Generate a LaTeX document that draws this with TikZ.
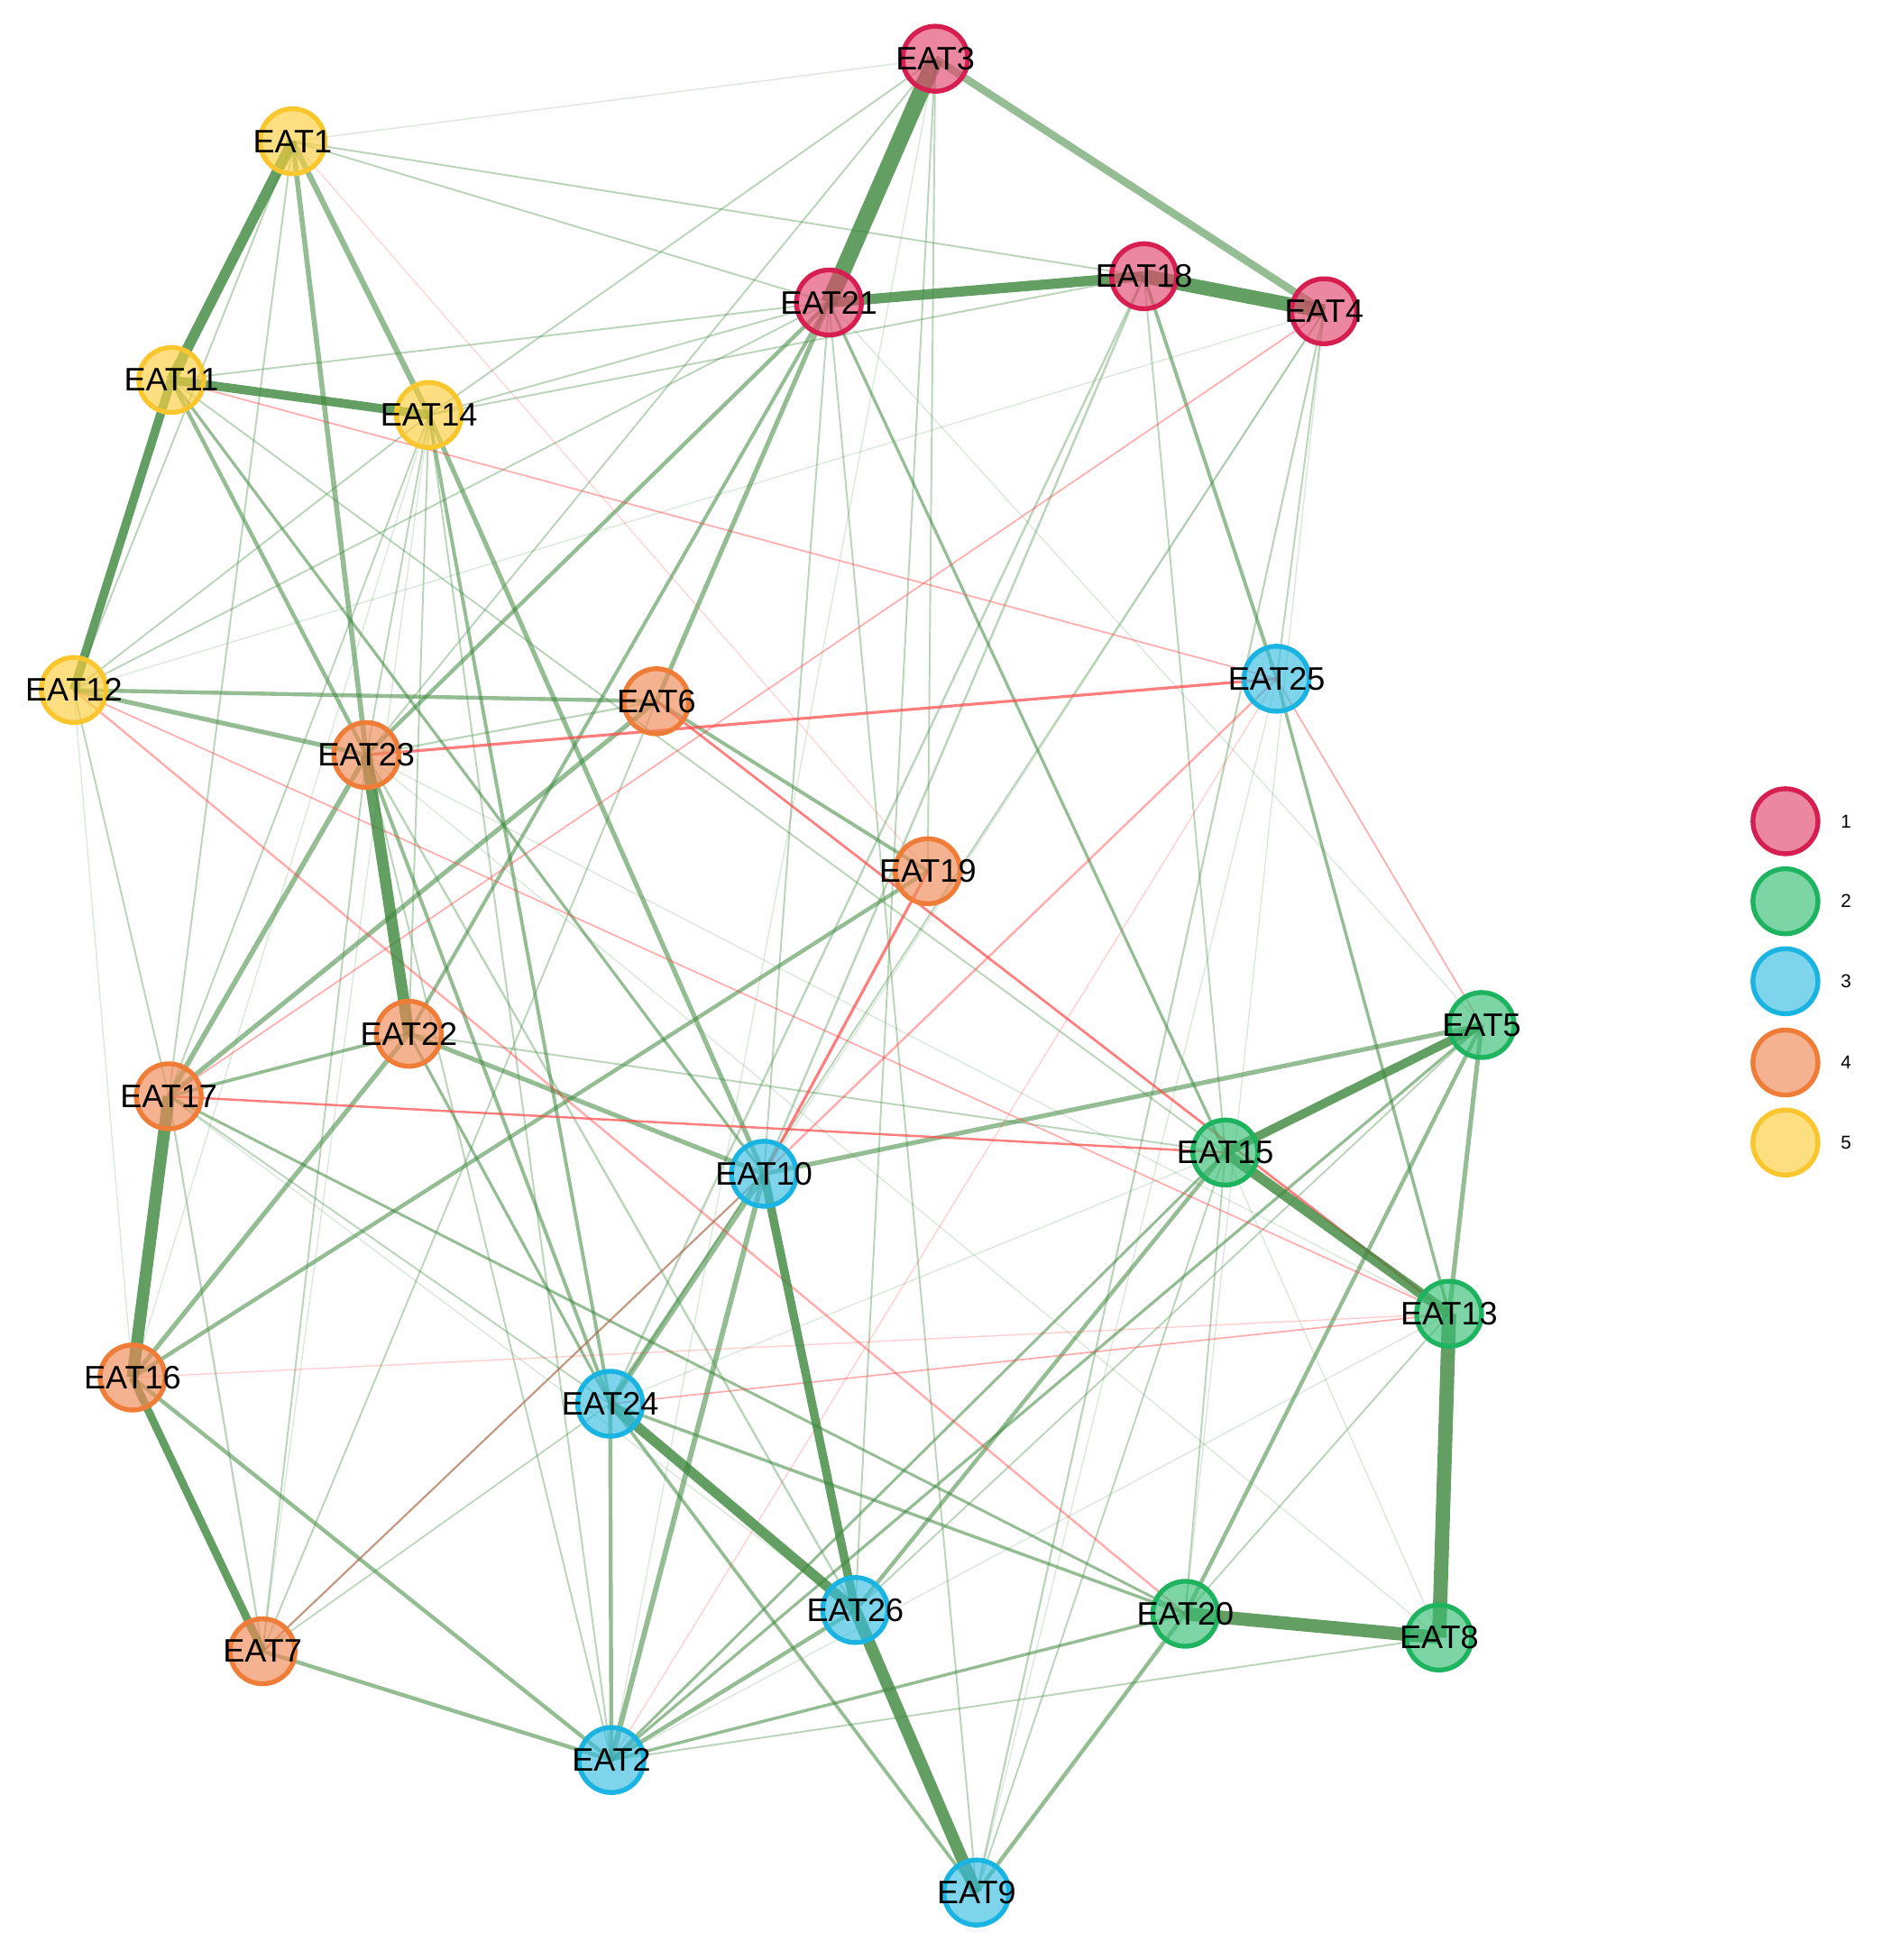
\documentclass[tikz,border=0pt]{standalone}
\usepackage{fontspec}
\setmainfont{Liberation Sans}
\pgfdeclarelayer{edges}
\pgfsetlayers{edges,main}
\definecolor{eg}{RGB}{60,135,60}
\definecolor{er}{RGB}{255,70,70}
\definecolor{eb}{RGB}{170,110,80}
\definecolor{f1}{RGB}{225,71,109}\definecolor{b1}{RGB}{214,30,80}
\definecolor{f2}{RGB}{55,189,117}\definecolor{b2}{RGB}{30,180,95}
\definecolor{f3}{RGB}{55,189,225}\definecolor{b3}{RGB}{25,180,225}
\definecolor{f4}{RGB}{240,137,86}\definecolor{b4}{RGB}{240,125,55}
\definecolor{f5}{RGB}{252,205,60}\definecolor{b5}{RGB}{250,198,45}
\tikzset{
  nd/.style={circle, minimum size=1.04cm, inner sep=0pt, line width=2.2pt, fill opacity=.65, draw opacity=1},
  c1/.style={nd, draw=b1, fill=f1},
  c2/.style={nd, draw=b2, fill=f2},
  c3/.style={nd, draw=b3, fill=f3},
  c4/.style={nd, draw=b4, fill=f4},
  c5/.style={nd, draw=b5, fill=f5},
  lbl/.style={font=\fontsize{14.8}{16}\selectfont, text=black, text opacity=1, fill opacity=1, inner sep=0pt},
  lgt/.style={font=\fontsize{8.5}{10}\selectfont, text=black, inner sep=0pt, anchor=west},
  gA/.style={draw=eg, draw opacity=.8, line width=#1},
  gB/.style={draw=eg, draw opacity=.55, line width=#1},
  gC/.style={draw=eg, draw opacity=.35, line width=#1},
  gD/.style={draw=eg, draw opacity=.18, line width=#1},
  rA/.style={draw=er, draw opacity=.7, line width=#1},
  rB/.style={draw=er, draw opacity=.45, line width=#1},
  rC/.style={draw=er, draw opacity=.25, line width=#1},
  bA/.style={draw=eb, draw opacity=.7, line width=#1},
}
\newcommand\myed[3]{\draw[#1] (#2.center) -- (#3.center);}
\newcommand\nn[4]{\node[#1, label={[lbl]center:#2}] (#2) at (#3,#4) {};}
\begin{document}
\begin{tikzpicture}[x=0.02cm, y=-0.02cm]
\useasboundingbox (0,0) rectangle (1505,1568);
% nodes
\nn{c5}{EAT1}{234}{113}
\nn{c3}{EAT2}{489}{1408}
\nn{c1}{EAT3}{748}{47}
\nn{c1}{EAT4}{1059}{249}
\nn{c2}{EAT5}{1185}{820}
\nn{c4}{EAT6}{525}{561}
\nn{c4}{EAT7}{210}{1321}
\nn{c2}{EAT8}{1151}{1310}
\nn{c3}{EAT9}{781}{1514}
\nn{c3}{EAT10}{611}{939}
\nn{c5}{EAT11}{137}{304}
\nn{c5}{EAT12}{59}{552}
\nn{c2}{EAT13}{1159}{1051}
\nn{c5}{EAT14}{343}{332}
\nn{c2}{EAT15}{980}{922}
\nn{c4}{EAT16}{106}{1102}
\nn{c4}{EAT17}{135}{877}
\nn{c1}{EAT18}{915}{221}
\nn{c4}{EAT19}{742}{697}
\nn{c2}{EAT20}{948}{1291}
\nn{c1}{EAT21}{663}{242}
\nn{c4}{EAT22}{327}{827}
\nn{c4}{EAT23}{293}{604}
\nn{c3}{EAT24}{488}{1123}
\nn{c3}{EAT25}{1021}{543}
\nn{c3}{EAT26}{684}{1288}
% legend
\node[c1] (L1) at (1428,657) {};
\node[c2] (L2) at (1428,721) {};
\node[c3] (L3) at (1428,785) {};
\node[c4] (L4) at (1428,850) {};
\node[c5] (L5) at (1428,914) {};
\node[lgt] (T1) at (1472,657) {1};
\node[lgt] (T2) at (1472,721) {2};
\node[lgt] (T3) at (1472,785) {3};
\node[lgt] (T4) at (1472,850) {4};
\node[lgt] (T5) at (1472,914) {5};
\begin{pgfonlayer}{edges}
% faint green
\myed{gD=0.6pt}{EAT1}{EAT3}
\myed{gD=0.6pt}{EAT3}{EAT2}
\myed{gD=0.6pt}{EAT21}{EAT5}
\myed{gD=0.6pt}{EAT4}{EAT10}
\myed{gD=0.6pt}{EAT4}{EAT20}
\myed{gD=0.6pt}{EAT12}{EAT4}
\myed{gD=0.6pt}{EAT12}{EAT16}
\myed{gD=0.6pt}{EAT14}{EAT16}
\myed{gD=0.6pt}{EAT14}{EAT7}
\myed{gD=0.6pt}{EAT23}{EAT13}
\myed{gD=0.6pt}{EAT23}{EAT8}
\myed{gD=0.6pt}{EAT15}{EAT8}
\myed{gD=0.6pt}{EAT24}{EAT15}
\myed{gD=0.6pt}{EAT25}{EAT9}
\myed{gD=0.6pt}{EAT13}{EAT2}
\myed{gD=0.6pt}{EAT17}{EAT26}
% thin green
\myed{gC=0.8pt}{EAT1}{EAT17}
\myed{gC=0.8pt}{EAT1}{EAT12}
\myed{gC=0.8pt}{EAT1}{EAT18}
\myed{gC=0.8pt}{EAT1}{EAT21}
\myed{gC=0.8pt}{EAT3}{EAT14}
\myed{gC=0.8pt}{EAT3}{EAT23}
\myed{gC=0.8pt}{EAT3}{EAT19}
\myed{gC=0.8pt}{EAT3}{EAT26}
\myed{gC=0.8pt}{EAT21}{EAT10}
\myed{gC=0.8pt}{EAT21}{EAT9}
\myed{gC=0.8pt}{EAT21}{EAT14}
\myed{gC=0.8pt}{EAT21}{EAT11}
\myed{gC=0.8pt}{EAT14}{EAT18}
\myed{gC=1pt}{EAT18}{EAT24}
\myed{gC=1pt}{EAT18}{EAT10}
\myed{gC=0.8pt}{EAT18}{EAT15}
\myed{gC=0.9pt}{EAT4}{EAT9}
\myed{gC=0.8pt}{EAT4}{EAT25}
\myed{gC=0.8pt}{EAT4}{EAT24}
\myed{gC=0.8pt}{EAT12}{EAT14}
\myed{gC=0.8pt}{EAT12}{EAT21}
\myed{gC=0.8pt}{EAT12}{EAT17}
\myed{gC=0.8pt}{EAT14}{EAT17}
\myed{gC=0.8pt}{EAT14}{EAT22}
\myed{gC=0.8pt}{EAT14}{EAT23}
\myed{gC=0.8pt}{EAT14}{EAT2}
\myed{gC=0.9pt}{EAT23}{EAT6}
\myed{gC=0.8pt}{EAT23}{EAT2}
\myed{gC=0.8pt}{EAT23}{EAT7}
\myed{gC=0.9pt}{EAT17}{EAT7}
\myed{gC=0.8pt}{EAT17}{EAT24}
\myed{gC=0.8pt}{EAT6}{EAT7}
\myed{gC=0.7pt}{EAT7}{EAT24}
\myed{gC=0.8pt}{EAT22}{EAT15}
\myed{gC=0.8pt}{EAT11}{EAT15}
\myed{gC=0.8pt}{EAT15}{EAT20}
\myed{gC=0.8pt}{EAT13}{EAT20}
\myed{gC=0.8pt}{EAT15}{EAT9}
\myed{gC=0.8pt}{EAT2}{EAT8}
\myed{gC=0.8pt}{EAT5}{EAT26}
\myed{gC=1pt}{EAT23}{EAT26}
% medium green
\myed{gB=2.6pt}{EAT1}{EAT14}
\myed{gB=2.3pt}{EAT1}{EAT23}
\myed{gB=2.7pt}{EAT10}{EAT24}
\myed{gB=2.4pt}{EAT10}{EAT2}
\myed{gB=2.1pt}{EAT14}{EAT10}
\myed{gB=2.1pt}{EAT21}{EAT6}
\myed{gB=1.8pt}{EAT21}{EAT23}
\myed{gB=1.6pt}{EAT21}{EAT22}
\myed{gB=1.8pt}{EAT11}{EAT23}
\myed{gB=1.8pt}{EAT12}{EAT6}
\myed{gB=2.1pt}{EAT12}{EAT23}
\myed{gB=2.3pt}{EAT23}{EAT17}
\myed{gB=2.1pt}{EAT6}{EAT17}
\myed{gB=2.1pt}{EAT22}{EAT16}
\myed{gB=2.1pt}{EAT22}{EAT10}
\myed{gB=1.5pt}{EAT22}{EAT17}
\myed{gB=1.8pt}{EAT16}{EAT19}
\myed{gB=1.8pt}{EAT16}{EAT2}
\myed{gB=1.8pt}{EAT7}{EAT2}
\myed{gB=2.1pt}{EAT10}{EAT5}
\myed{gB=2.1pt}{EAT5}{EAT13}
\myed{gB=1.8pt}{EAT5}{EAT20}
\myed{gB=1.8pt}{EAT24}{EAT2}
\myed{gB=1.8pt}{EAT26}{EAT15}
\myed{gB=1.8pt}{EAT26}{EAT2}
\myed{gB=1.8pt}{EAT20}{EAT9}
\myed{gB=1.5pt}{EAT24}{EAT9}
\myed{gB=1.4pt}{EAT24}{EAT20}
\myed{gB=1.4pt}{EAT2}{EAT20}
\myed{gB=1.6pt}{EAT14}{EAT24}
\myed{gB=1.6pt}{EAT23}{EAT24}
\myed{gB=1.3pt}{EAT22}{EAT24}
\myed{gB=1.6pt}{EAT18}{EAT25}
\myed{gB=1.4pt}{EAT25}{EAT13}
\myed{gB=1.6pt}{EAT6}{EAT19}
\myed{gB=1.3pt}{EAT21}{EAT15}
\myed{gB=1.3pt}{EAT5}{EAT2}
\myed{gB=1.2pt}{EAT17}{EAT20}
\myed{gB=1.3pt}{EAT11}{EAT10}
\myed{gB=1.2pt}{EAT2}{EAT15}
% red
\myed{rC=0.5pt}{EAT1}{EAT19}
\myed{rC=0.6pt}{EAT16}{EAT13}
\myed{rC=0.6pt}{EAT2}{EAT25}
\myed{rB=0.7pt}{EAT11}{EAT25}
\myed{rB=0.7pt}{EAT4}{EAT17}
\myed{rB=0.7pt}{EAT12}{EAT13}
\myed{rB=0.7pt}{EAT24}{EAT13}
\myed{rB=0.7pt}{EAT25}{EAT5}
\myed{rB=1pt}{EAT12}{EAT20}
\myed{rB=1pt}{EAT10}{EAT25}
\myed{rA=1pt}{EAT17}{EAT15}
\myed{rA=1.1pt}{EAT6}{EAT13}
\myed{rA=1.3pt}{EAT10}{EAT19}
\myed{rA=1.3pt}{EAT23}{EAT25}
\myed{bA=0.9pt}{EAT7}{EAT10}
% strong green
\myed{gA=7.5pt}{EAT3}{EAT21}
\myed{gA=6.5pt}{EAT18}{EAT4}
\myed{gA=6.5pt}{EAT13}{EAT8}
\myed{gA=6pt}{EAT20}{EAT8}
\myed{gA=5.2pt}{EAT23}{EAT22}
\myed{gA=5.5pt}{EAT17}{EAT16}
\myed{gA=5.5pt}{EAT26}{EAT9}
\myed{gA=4.8pt}{EAT1}{EAT11}
\myed{gA=4.6pt}{EAT21}{EAT18}
\myed{gA=4.6pt}{EAT24}{EAT26}
\myed{gA=4.6pt}{EAT15}{EAT13}
\myed{gA=4pt}{EAT11}{EAT14}
\myed{gA=4pt}{EAT11}{EAT12}
\myed{gA=3.9pt}{EAT10}{EAT26}
\myed{gA=4pt}{EAT5}{EAT15}
\myed{gB=3.5pt}{EAT3}{EAT4}
\myed{gA=3.6pt}{EAT16}{EAT7}
\end{pgfonlayer}
\end{tikzpicture}
\end{document}
